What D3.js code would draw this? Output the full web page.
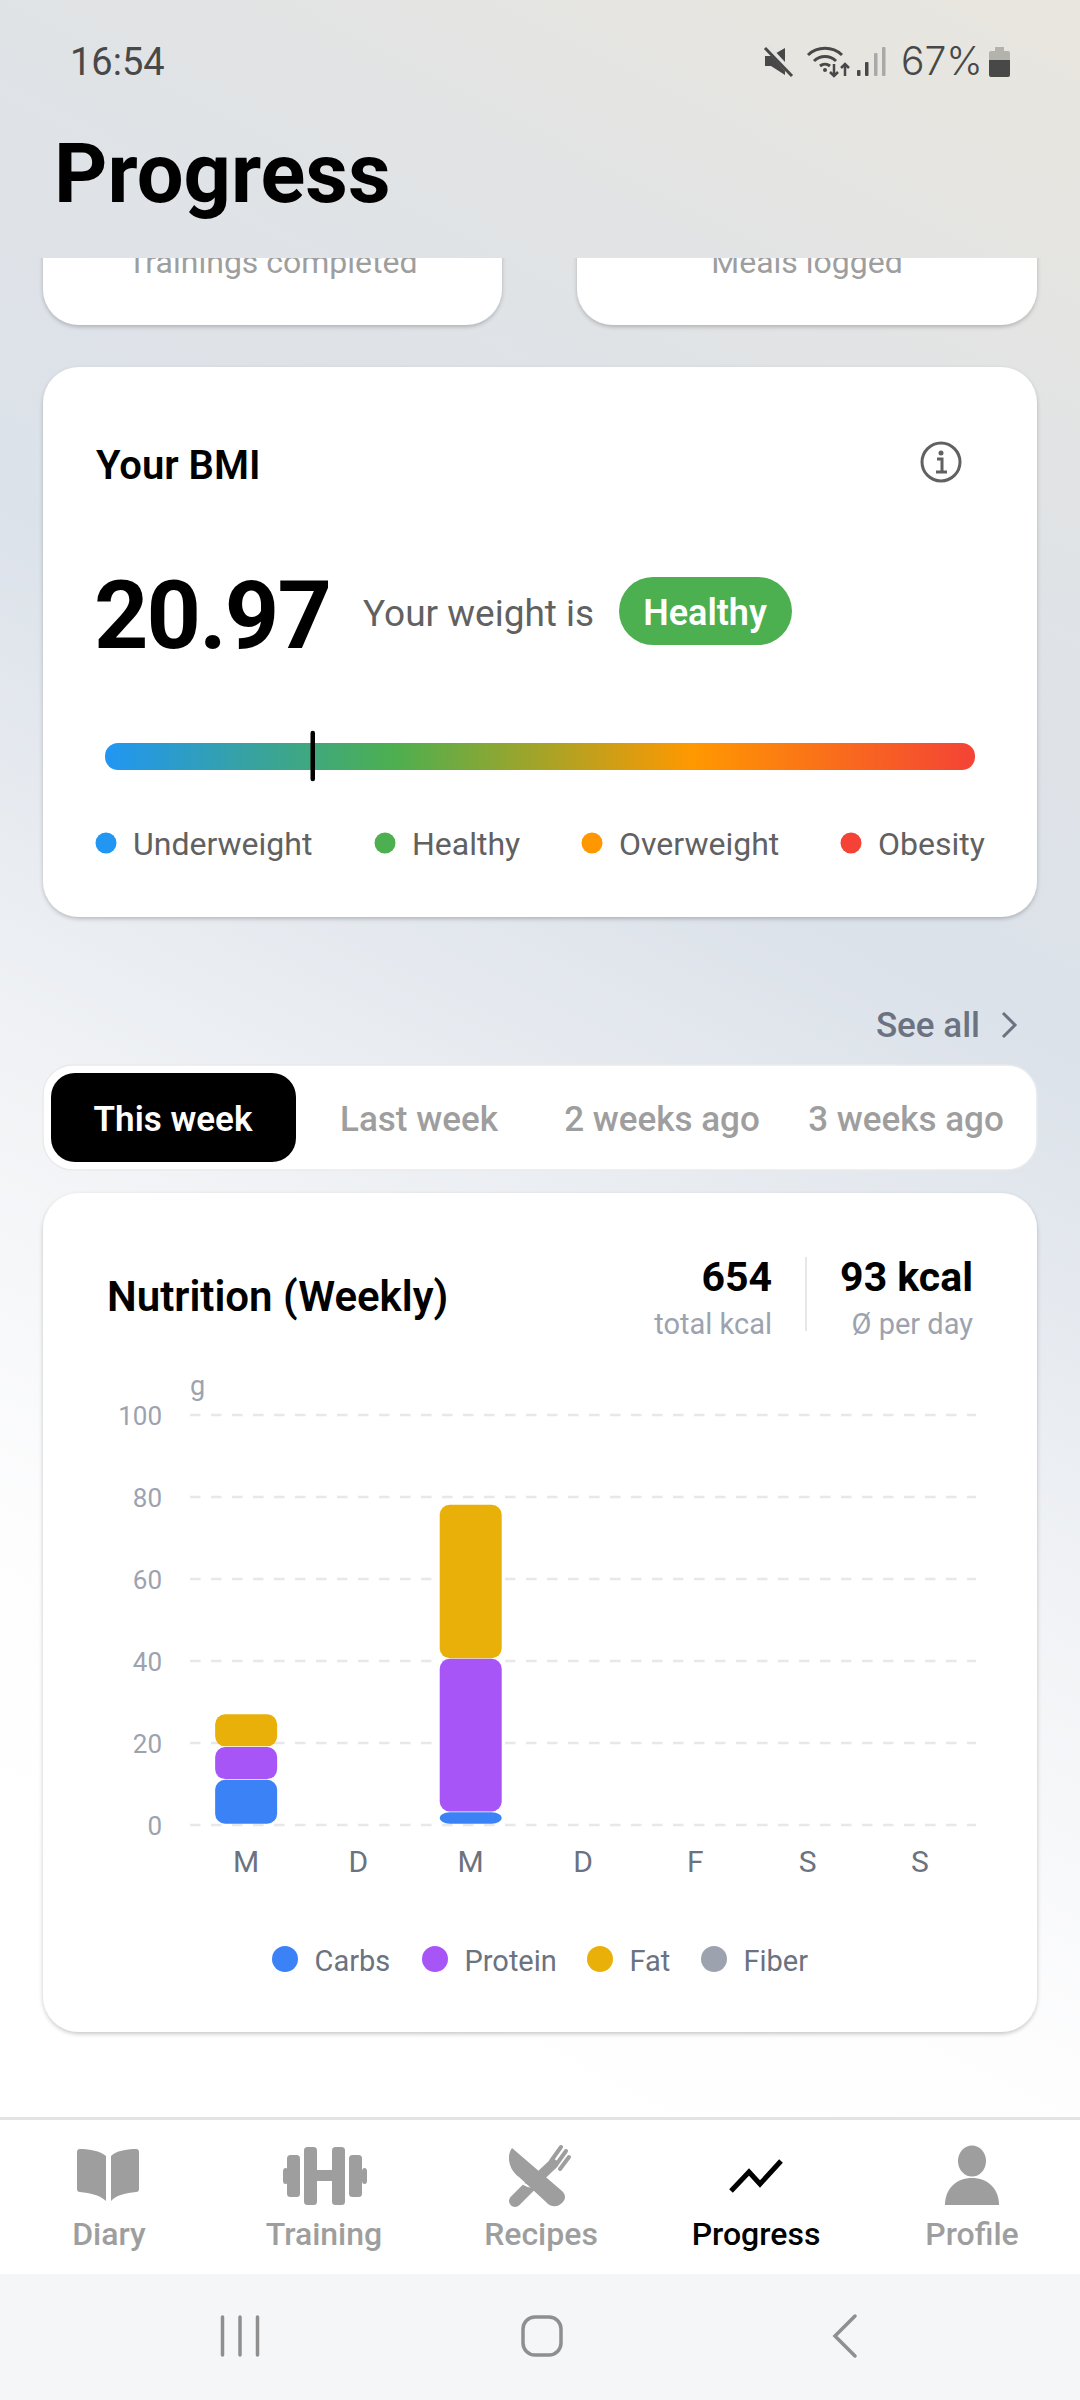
<!DOCTYPE html>
<html>
<head>
<meta charset="utf-8">
<title>Progress</title>
<script src="https://cdn.jsdelivr.net/npm/d3@7"></script>
<style>
    html, body { margin: 0; padding: 0; background: #fff; }
    svg { display: block; }
    text { font-family: Roboto, sans-serif; }
</style>
</head>
<body>
<svg id="chart" width="1080" height="2400"></svg>
<script>
// nutrition chart data (grams per day)
const days = ["M", "D", "M", "D", "F", "S", "S"];
const carbs = [10.9, 0, 3, 0, 0, 0, 0];
const protein = [8, 0, 37.4, 0, 0, 0, 0];
const fat = [8, 0, 37.6, 0, 0, 0, 0];
const fiber = [0, 0, 0, 0, 0, 0, 0];
const yTicks = [0, 20, 40, 60, 80, 100];
const macroNames = ["Carbs", "Protein", "Fat", "Fiber"];
const macroColors = ["#3b82f6", "#a855f7", "#e8b008", "#9ca3af"];

// bmi data
const bmiValue = 20.97;
const bmiDomain = [15, 40];
const bmiNames = ["Underweight", "Healthy", "Overweight", "Obesity"];
const bmiColors = ["#2196f3", "#4caf50", "#ff9800", "#f44336"];

const tabNames = ["This week", "Last week", "2 weeks ago", "3 weeks ago"];
const navNames = ["Diary", "Training", "Recipes", "Progress", "Profile"];

const svg = d3.select("#chart");
const defs = svg.append("defs");

function label(parent, str, x, y, size, weight, fill, anchor) {
    return parent.append("text")
        .attr("x", x)
        .attr("y", y)
        .attr("font-size", size)
        .attr("font-weight", weight)
        .attr("fill", fill)
        .attr("text-anchor", anchor || "start")
        .text(str);
}

// page background
const bg = defs.append("linearGradient")
    .attr("id", "bg")
    .attr("gradientUnits", "userSpaceOnUse")
    .attr("x1", 1080).attr("y1", 0)
    .attr("x2", 0).attr("y2", 2100);
[[0, "#e9e6de"], [0.22, "#e0e3e6"], [0.4, "#dce2ea"], [0.6, "#f0f2f5"], [0.78, "#fdfdfe"], [0.9, "#ffffff"]]
    .forEach(s => bg.append("stop").attr("offset", s[0]).attr("stop-color", s[1]));
svg.append("rect").attr("width", 1080).attr("height", 2400).attr("fill", "url(#bg)");

const shadow = defs.append("filter")
    .attr("id", "cardShadow")
    .attr("x", "-5%").attr("y", "-5%").attr("width", "110%").attr("height", "110%");
shadow.append("feDropShadow")
    .attr("dx", 0).attr("dy", 2).attr("stdDeviation", 2)
    .attr("flood-color", "#000").attr("flood-opacity", 0.22);

function card(x, y, w, h, r) {
    return svg.append("rect")
        .attr("x", x).attr("y", y)
        .attr("width", w).attr("height", h)
        .attr("rx", r).attr("ry", r)
        .attr("fill", "#fff")
        .attr("filter", "url(#cardShadow)");
}

// status bar
const statusColor = "#484848";
label(svg, "16:54", 70, 75, 38, 400, statusColor);
label(svg, "67%", 901, 75, 39, 300, statusColor).style("font-family", "Inter");
const statusIcons = svg.append("g").attr("fill", statusColor).attr("stroke", statusColor);
// mute
statusIcons.append("path").attr("stroke", "none")
    .attr("d", "M765 56h6l14-8v27l-14-9h-6z");
statusIcons.append("path").attr("fill", "none").attr("stroke", "#e3e3df").attr("stroke-width", 6)
    .attr("d", "M767 47l26 28");
statusIcons.append("path").attr("fill", "none").attr("stroke-width", 3)
    .attr("d", "M765 48l27 28");
// wifi + arrows
statusIcons.append("g").attr("fill", "none").attr("stroke-width", 3).selectAll("path")
    .data(["M808 55a25 25 0 0 1 34 0", "M814 61a16 16 0 0 1 22 0", "M820 66a8 8 0 0 1 10 0"])
    .join("path").attr("d", d => d);
statusIcons.append("circle").attr("cx", 825).attr("cy", 70).attr("r", 2).attr("stroke", "none");
statusIcons.append("path").attr("fill", "none").attr("stroke-width", 2.5)
    .attr("d", "M834 64v12m-4-4l4 4 4-4M845 76v-12m-4 4l4-4 4 4");
// signal
svg.append("g").selectAll("rect")
    .data([[857, 70, "#484848"], [865, 62, "#484848"], [874, 53, "#a9a9a9"], [882, 47, "#a9a9a9"]])
    .join("rect")
    .attr("x", d => d[0]).attr("y", d => d[1])
    .attr("width", 3.5).attr("height", d => 76 - d[1])
    .attr("rx", 1)
    .attr("fill", d => d[2]);
// battery
svg.append("path").attr("fill", "#b3b2ac").attr("d", "M995 47h9v4h4q2 0 2 2v7h-21v-7q0-2 2-2h4z");
svg.append("path").attr("fill", statusColor).attr("d", "M989 60h21v15q0 2-2 2h-17q-2 0-2-2z");

label(svg, "Progress", 54, 202, 83, 700, "#000");

// the two summary cards, scrolled under the header
defs.append("clipPath").attr("id", "scrollClip")
    .append("rect").attr("x", 0).attr("y", 258).attr("width", 1080).attr("height", 200);
const scrolled = svg.append("g").attr("clip-path", "url(#scrollClip)");
[[43, 459, "Trainings completed"], [577, 460, "Meals logged"]].forEach(c => {
    scrolled.append("rect")
        .attr("x", c[0]).attr("y", 180)
        .attr("width", c[1]).attr("height", 145)
        .attr("rx", 36).attr("fill", "#fff")
        .attr("filter", "url(#cardShadow)");
    label(scrolled, c[2], c[0] + c[1] / 2, 273, 32, 400, "#9e9e9e", "middle");
});

// BMI card
card(43, 367, 994, 550, 36);
label(svg, "Your BMI", 96, 479, 40, 600, "#000");
const info = svg.append("g").attr("transform", "translate(941,462)");
info.append("circle").attr("r", 19).attr("fill", "none").attr("stroke", "#616161").attr("stroke-width", 3);
info.append("circle").attr("cy", -9).attr("r", 2.5).attr("fill", "#616161");
info.append("path").attr("fill", "none").attr("stroke", "#616161").attr("stroke-width", 3)
    .attr("d", "M-4 -3H1V10M-5 10H6");

label(svg, bmiValue, 94, 648, 95, 700, "#000").attr("letter-spacing", -1.9);
label(svg, "Your weight is", 363, 626, 37, 400, "#616161");
svg.append("rect")
    .attr("x", 619).attr("y", 577)
    .attr("width", 173).attr("height", 68)
    .attr("rx", 34).attr("fill", bmiColors[1]);
label(svg, bmiNames[1], 705, 625, 36, 600, "#fff", "middle");

const bmiScale = d3.scaleLinear().domain(bmiDomain).range([105, 975]);
const barGrad = defs.append("linearGradient").attr("id", "bmiGrad");
bmiColors.forEach((c, i) => {
    barGrad.append("stop")
        .attr("offset", [0, 0.33, 0.675, 1][i])
        .attr("stop-color", c);
});
svg.append("rect")
    .attr("x", bmiScale.range()[0]).attr("y", 743)
    .attr("width", bmiScale.range()[1] - bmiScale.range()[0]).attr("height", 27)
    .attr("rx", 13).attr("fill", "url(#bmiGrad)");
svg.append("line")
    .attr("x1", bmiScale(bmiValue)).attr("x2", bmiScale(bmiValue))
    .attr("y1", 733).attr("y2", 779)
    .attr("stroke", "#000").attr("stroke-width", 4.5).attr("stroke-linecap", "round");

const bmiLegendX = [106, 385, 592, 851];
bmiNames.forEach((name, i) => {
    svg.append("circle")
        .attr("cx", bmiLegendX[i]).attr("cy", 843).attr("r", 10.5)
        .attr("fill", bmiColors[i]);
    label(svg, name, bmiLegendX[i] + 27, 855, 32, 400, "#616161");
});

// see all + tabs
label(svg, "See all", 980, 1037, 35, 500, "#6b7280", "end");
svg.append("path")
    .attr("d", "M1003 1013L1015 1025L1003 1037")
    .attr("fill", "none").attr("stroke", "#6b7280").attr("stroke-width", 3);

svg.append("rect")
    .attr("x", 43).attr("y", 1065)
    .attr("width", 994).attr("height", 105)
    .attr("rx", 30).attr("fill", "#fff")
    .attr("stroke", "#e9eaec").attr("stroke-width", 1.5);
svg.append("rect")
    .attr("x", 51).attr("y", 1073)
    .attr("width", 245).attr("height", 89)
    .attr("rx", 24).attr("fill", "#000");
const tabCenters = [173, 419, 662, 906];
tabNames.forEach((name, i) => {
    label(svg, name, tabCenters[i], 1131, 35, i == 0 ? 600 : 500, i == 0 ? "#fff" : "#9e9e9e", "middle");
});

// nutrition card
card(43, 1193, 994, 839, 36);
label(svg, "Nutrition (Weekly)", 107, 1311, 42, 600, "#000");
label(svg, "654", 772, 1291, 41, 700, "#000", "end");
label(svg, "total kcal", 772, 1334, 29, 400, "#9ca3af", "end");
svg.append("line")
    .attr("x1", 806).attr("x2", 806).attr("y1", 1257).attr("y2", 1331)
    .attr("stroke", "#e5e7eb").attr("stroke-width", 2);
label(svg, "93 kcal", 973, 1291, 41, 700, "#000", "end");
label(svg, "Ø per day", 973, 1334, 29, 400, "#9ca3af", "end");
label(svg, "g", 190, 1395, 27, 400, "#9ca3af");

const xScale = d3.scaleBand()
    .domain(d3.range(days.length))
    .range([190, 976])
    .paddingInner(0)
    .paddingOuter(0);
const yScale = d3.scaleLinear()
    .domain([0, 100])
    .range([1824.5, 1414.5]);

// Add Y grid lines with labels
const yAxis = d3.axisLeft(yScale)
    .tickValues(yTicks)
    .tickSize(-786)
    .tickPadding(28);
const yAxisGroup = svg.append("g")
    .attr("transform", "translate(190,0)")
    .call(yAxis);
yAxisGroup.select(".domain").remove();
yAxisGroup.selectAll("line")
    .attr("stroke", "#e7e8ec")
    .attr("stroke-width", 2.5)
    .attr("stroke-dasharray", "10.5 10.5");
yAxisGroup.selectAll("text")
    .attr("fill", "#9ca3af")
    .attr("font-size", 26)
    .attr("dy", "0.4em")
    .style("font-family", "Roboto");

// Add X labels
const xAxis = d3.axisBottom(xScale)
    .tickFormat(i => days[i])
    .tickSize(0)
    .tickPadding(26);
const xAxisGroup = svg.append("g")
    .attr("transform", "translate(0,1824.5)")
    .call(xAxis);
xAxisGroup.select(".domain").remove();
xAxisGroup.selectAll("text")
    .attr("fill", "#6b7280")
    .attr("font-size", 30)
    .style("font-family", "Roboto");

// stacked bars
const table = days.map((d, i) => ({ i: i, Carbs: carbs[i], Protein: protein[i], Fat: fat[i], Fiber: fiber[i] }));
const series = d3.stack().keys(macroNames)(table);
const barWidth = 62;
svg.append("g").selectAll("g")
    .data(series)
    .join("g")
    .attr("fill", (d, i) => macroColors[i])
    .selectAll("rect")
    .data(d => d.filter(p => p[1] > p[0]))
    .join("rect")
    .attr("x", d => xScale(d.data.i) + xScale.bandwidth() / 2 - barWidth / 2)
    .attr("y", d => yScale(d[1]))
    .attr("width", barWidth)
    .attr("height", d => yScale(d[0]) - yScale(d[1]) - 0.7)
    .attr("rx", 10)
    .attr("ry", 10);

// chart legend
const legendX = [285, 435, 600, 714];
macroNames.forEach((name, i) => {
    svg.append("circle")
        .attr("cx", legendX[i]).attr("cy", 1959).attr("r", 13)
        .attr("fill", macroColors[i]);
    label(svg, name, legendX[i] + 29.5, 1971, 29, 400, "#6b7280");
});

// bottom nav
svg.append("rect").attr("x", 0).attr("y", 2118).attr("width", 1080).attr("height", 156).attr("fill", "#fff");
svg.append("rect").attr("x", 0).attr("y", 2117).attr("width", 1080).attr("height", 3).attr("fill", "#e3e3e3");
svg.append("rect").attr("x", 0).attr("y", 2274).attr("width", 1080).attr("height", 126).attr("fill", "#f5f6f8");

const navCenters = [109, 324, 541, 756, 972];
navNames.forEach((name, i) => {
    label(svg, name, navCenters[i], 2245, 32, 500, name == "Progress" ? "#000" : "#9e9e9e", "middle");
});

const navIcons = svg.append("g").attr("fill", "#9e9e9e");
// book
navIcons.append("path")
    .attr("d", "M80 2149C90 2149 100 2151 106 2156V2201C100 2195 90 2193 80 2192Q77 2192 77 2189V2152Q77 2149 80 2149Z" +
        "M136 2149C126 2149 116 2151 111 2156V2201C116 2195 126 2193 136 2192Q139 2192 139 2189V2152Q139 2149 136 2149Z");
// dumbbell
[[283, 2168, 5, 16], [287, 2155, 13, 42], [304, 2147, 13, 58], [332, 2147, 13, 58], [349, 2155, 13, 42], [362, 2168, 5, 16]]
    .forEach(b => navIcons.append("rect").attr("x", b[0]).attr("y", b[1]).attr("width", b[2]).attr("height", b[3]).attr("rx", 3.5));
navIcons.append("rect").attr("x", 315).attr("y", 2170).attr("width", 20).attr("height", 11);
// fork, behind the knife
const fork = navIcons.append("g").attr("fill", "none").attr("stroke", "#9e9e9e").attr("stroke-linecap", "round");
fork.append("path").attr("stroke-width", 12).attr("d", "M515 2201L532 2184");
fork.append("path").attr("stroke-width", 10).attr("d", "M536 2180L553 2164");
fork.append("path").attr("stroke-width", 4).attr("d", "M551 2161L561 2147M556 2165L566 2151M560 2169L569 2157");
// white gap between handle and knife
navIcons.append("path").attr("fill", "none").attr("stroke", "#fff").attr("stroke-width", 2.5)
    .attr("d", "M518 2177C522 2184 528 2188 536 2186");
// knife
navIcons.append("path")
    .attr("d", "M512 2148C506 2156 509 2170 519 2177L546 2202C551 2208 558 2207 562 2203C566 2199 566 2195 562 2191Z");
// profile
navIcons.append("ellipse").attr("cx", 972).attr("cy", 2161).attr("rx", 14).attr("ry", 15.5);
navIcons.append("path").attr("d", "M945 2205C945 2188 957 2178 972 2178C987 2178 999 2188 999 2205Z");
// trend
svg.append("path")
    .attr("d", "M731 2191L749 2172L760 2184L781 2161")
    .attr("fill", "none").attr("stroke", "#000").attr("stroke-width", 5);

// android nav
const sysNav = svg.append("g").attr("fill", "none").attr("stroke", "#8f8f8f").attr("stroke-width", 3.5).attr("stroke-linecap", "round");
[222.5, 240, 257.5].forEach(x => {
    sysNav.append("line").attr("x1", x).attr("x2", x).attr("y1", 2317).attr("y2", 2355);
});
sysNav.append("rect").attr("x", 523).attr("y", 2317).attr("width", 38).attr("height", 38).attr("rx", 12);
sysNav.append("path").attr("d", "M855 2316L835 2336L855 2356");
</script>
</body>
</html>
